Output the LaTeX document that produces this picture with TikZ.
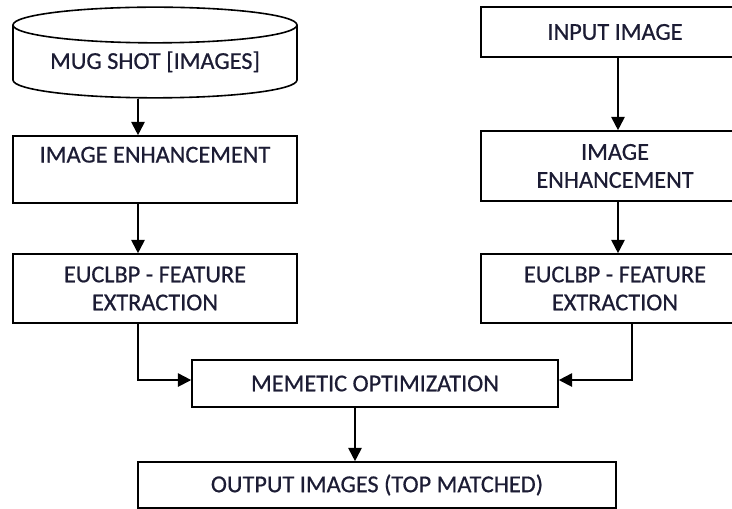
\documentclass[tikz,border=0pt]{standalone}
\usepackage{fontspec}
\setmainfont{Carlito}[FakeBold=0.6]
\usetikzlibrary{arrows.meta,shapes.geometric}
\definecolor{txt}{RGB}{28,28,52}

\begin{document}
\begin{tikzpicture}[x=0.75pt,y=-0.75pt,
  every node/.style={font=\fontsize{18.2}{21}\selectfont,text=txt,align=center,inner sep=0pt},
  box/.style={rectangle,draw,line width=1.2pt},
  db/.style={cylinder,shape border rotate=90,draw,line width=1.2pt,aspect=0.17,anchor=shape center},
  arr/.style={-{Triangle[length=10pt,width=10pt]},line width=1.4pt}]
\useasboundingbox (0,0) rectangle (732,509);

\node at (155,52.5) [db,minimum width=213pt,minimum height=68pt] (mug) {MUG SHOT [IMAGES]};
\node at (155,169.5) [box,minimum width=213pt,minimum height=50.25pt] (enhl) {IMAGE ENHANCEMENT\\[-5pt]\strut};
\node at (155,288.5) [box,minimum width=213pt,minimum height=51.75pt] (featl) {EUCLBP - FEATURE\\EXTRACTION};
\node at (615,32) [box,minimum width=201pt,minimum height=37.5pt] (inp) {INPUT IMAGE};
\node at (615,166) [box,minimum width=201pt,minimum height=52.5pt] (enhr) {IMAGE\\ENHANCEMENT};
\node at (615,288.5) [box,minimum width=201pt,minimum height=51.75pt] (featr) {EUCLBP - FEATURE\\EXTRACTION};
\node at (375,383.5) [box,minimum width=274.5pt,minimum height=35.25pt] (meme) {MEMETIC OPTIMIZATION};
\node at (377,485) [box,minimum width=358.5pt,minimum height=34.5pt] (out) {OUTPUT IMAGES (TOP MATCHED)};

\draw[arr] ([xshift=-12.75pt]mug.bottom) -- ([xshift=-12.75pt]enhl.north);
\draw[arr] ([xshift=-12.75pt]enhl.south) -- ([xshift=-12.75pt]featl.north);
\draw[arr] ([xshift=2.25pt]inp.south) -- ([xshift=2.25pt]enhr.north);
\draw[arr] ([xshift=2.25pt]enhr.south) -- ([xshift=2.25pt]featr.north);
\draw[arr] ([xshift=-12.75pt]featl.south) |- ([yshift=2.6pt]meme.west);
\draw[arr] ([xshift=12.75pt]featr.south) |- ([yshift=2.6pt]meme.east);
\draw[arr] ([xshift=-15pt]meme.south) -- ([xshift=-16.5pt]out.north);
\end{tikzpicture}
\end{document}
